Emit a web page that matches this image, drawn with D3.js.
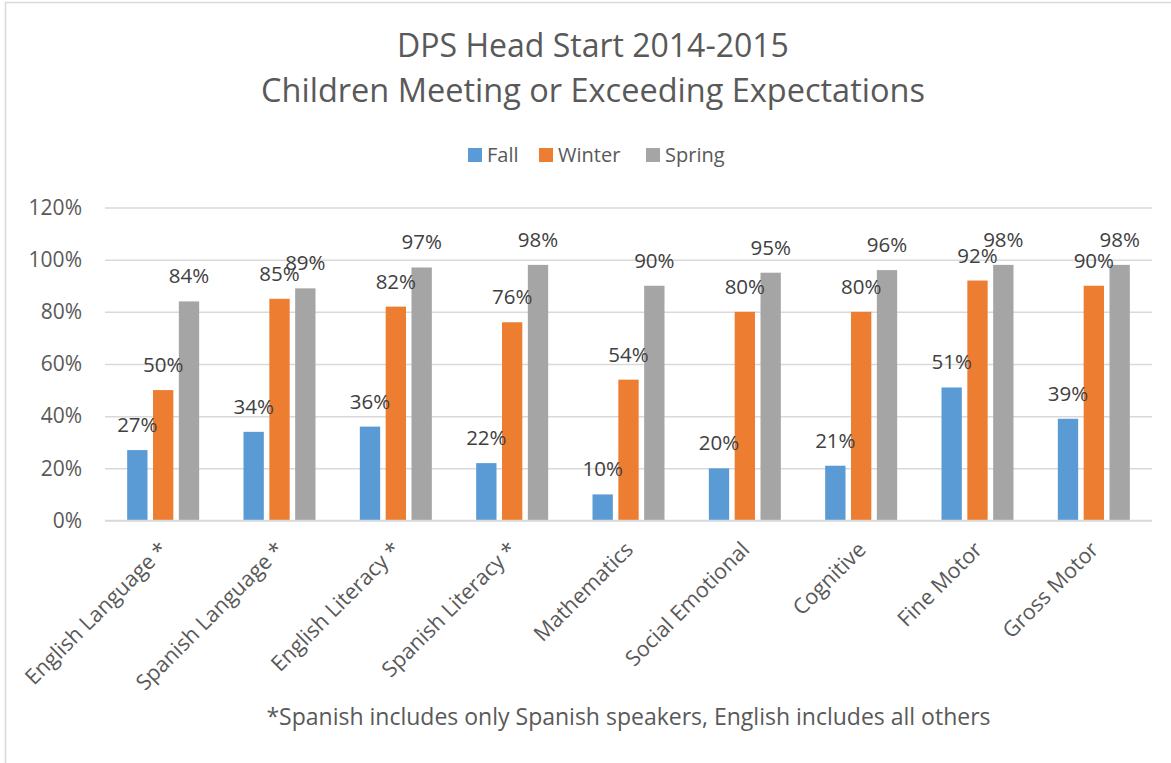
<!DOCTYPE html>
<html>
<head>
<meta charset="utf-8">
<script src="https://cdn.jsdelivr.net/npm/d3@7"></script>
<style>
  body { margin: 0; background: #fff; }
  svg text { font-family: "Open Sans", "Noto Sans", sans-serif; fill: #595959; }
  svg text.value-label { fill: #404040; }
</style>
</head>
<body>
<div id="chart"></div>
<script>
const categories = ['English Language *', 'Spanish Language *', 'English Literacy *', 'Spanish Literacy *',
  'Mathematics', 'Social Emotional', 'Cognitive', 'Fine Motor', 'Gross Motor'];
const seriesNames = ['Fall', 'Winter', 'Spring'];
const fall = [27, 34, 36, 22, 10, 20, 21, 51, 39];
const winter = [50, 85, 82, 76, 54, 80, 80, 92, 90];
const spring = [84, 89, 97, 98, 90, 95, 96, 98, 98];
const yTicks = [0, 20, 40, 60, 80, 100, 120];
const colors = ['#5B9BD5', '#ED7D31', '#A5A5A5'];

const W = 1171, H = 763;
const plot = { left: 105, right: 1152, top: 207.5, bottom: 520.5 };

const svg = d3.select('#chart').append('svg')
  .attr('width', W).attr('height', H);

// outer chart border (only left/top visible in the crop)
svg.append('rect')
  .attr('x', 5.5).attr('y', 2.5)
  .attr('width', W + 20).attr('height', H + 20)
  .attr('fill', 'none').attr('stroke', '#d9d9d9').attr('stroke-width', 1.5);

// --- Title ---
const title = svg.append('text').attr('text-anchor', 'middle').style('font-size', '32px');
title.append('tspan').attr('x', 593).attr('y', 57).text('DPS Head Start 2014-2015');
title.append('tspan').attr('x', 593).attr('y', 102).style('font-size', '32.5px')
  .text('Children Meeting or Exceeding Expectations');

// --- Legend ---
const legendX = [468, 539, 646];
const legend = svg.append('g');
seriesNames.forEach((s, i) => {
  legend.append('rect').attr('x', legendX[i]).attr('y', 148).attr('width', 14).attr('height', 14)
    .attr('fill', colors[i]);
  legend.append('text').attr('x', legendX[i] + 19).attr('y', 162).style('font-size', '20px').text(s);
});

// --- Scales ---
const x0 = d3.scaleBand().domain(categories).range([plot.left, plot.right]);
const x1 = d3.scaleBand().domain(seriesNames).range([-36, 36]).paddingInner(0.213);
const y = d3.scaleLinear().domain([0, 120]).range([plot.bottom, plot.top]);

// gridlines + y labels
const yAxis = svg.append('g')
  .attr('transform', `translate(${plot.left},0)`)
  .call(d3.axisLeft(y).tickValues(yTicks).tickSize(-(plot.right - plot.left)).tickPadding(23)
    .tickFormat(d => d + '%'));
yAxis.select('.domain').remove();
yAxis.selectAll('.tick line').attr('stroke', '#d9d9d9').attr('stroke-width', 1.5);
yAxis.selectAll('.tick text').attr('fill', '#595959').style('font-size', '21px')
  .style('font-family', '"Open Sans", "Noto Sans", sans-serif');

// --- Bars ---
const seriesValues = [fall, winter, spring];
const rows = [];
categories.forEach((c, ci) => {
  seriesNames.forEach((s, si) => rows.push({ cat: c, series: s, si, value: seriesValues[si][ci] }));
});

svg.append('g').selectAll('rect').data(rows).join('rect')
  .attr('x', d => x0(d.cat) + x0.bandwidth() / 2 + x1(d.series))
  .attr('y', d => y(d.value))
  .attr('width', x1.bandwidth())
  .attr('height', d => y(0) - y(d.value))
  .attr('fill', d => colors[d.si]);

// data labels
svg.append('g').selectAll('text').data(rows).join('text')
  .attr('class', 'value-label')
  .attr('x', d => x0(d.cat) + x0.bandwidth() / 2 + x1(d.series) + x1.bandwidth() / 2)
  .attr('y', d => y(d.value) - 18)
  .attr('text-anchor', 'middle')
  .style('font-size', '20.5px')
  .text(d => d.value + '%');

// x axis line
svg.append('line')
  .attr('x1', plot.left).attr('x2', plot.right)
  .attr('y1', y(0)).attr('y2', y(0))
  .attr('stroke', '#d9d9d9').attr('stroke-width', 1.5);

// category labels, rotated
svg.append('g').selectAll('text').data(categories).join('text')
  .attr('transform', d => `translate(${x0(d) + x0.bandwidth() / 2 + 6},551) rotate(-45)`)
  .attr('text-anchor', 'end')
  .style('font-size', '21.5px')
  .text(d => d);

// footnote
svg.append('text')
  .attr('x', (plot.left + plot.right) / 2).attr('y', 725)
  .attr('text-anchor', 'middle')
  .style('font-size', '23px')
  .text('*Spanish includes only Spanish speakers, English includes all others');
</script>
</body>
</html>
